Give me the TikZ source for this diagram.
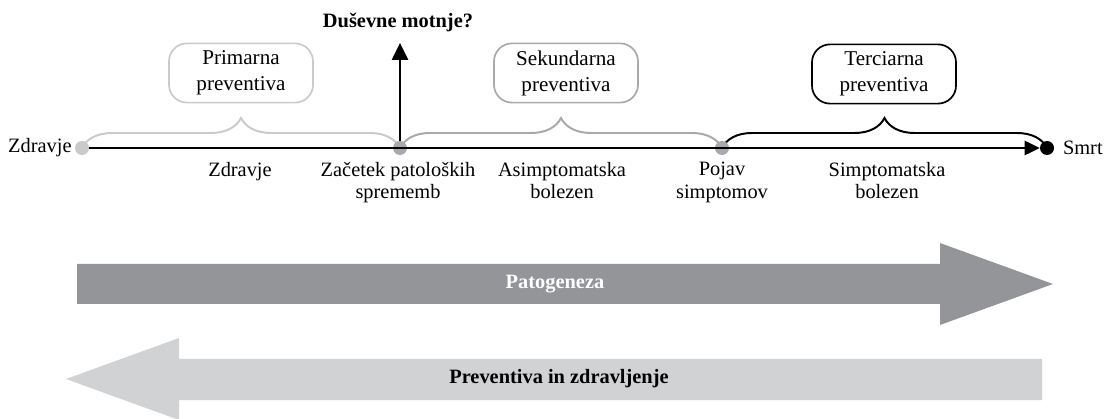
\documentclass[tikz,border=0pt]{standalone}
\usepackage{fontspec}
\setmainfont{Liberation Serif}
\usetikzlibrary{arrows.meta,positioning,calc,decorations.pathreplacing}

\definecolor{lightgr}{HTML}{C9CACC}
\definecolor{midgr}{HTML}{A7A9AC}
\definecolor{patgr}{HTML}{939598}
\definecolor{prevgr}{HTML}{D1D2D4}

\begin{document}
\begin{tikzpicture}[
  x=0.025cm,y=-0.025cm,
  dot/.style={circle, fill=#1, minimum size=0.35cm, inner sep=0pt},
  lbl/.style={font=\fontsize{14.5}{16}\selectfont, align=center, inner sep=0pt, anchor=north},
  stage/.style={
    draw=#1,
    line width=1.2pt,
    rounded corners=0.45cm,
    minimum width=3.6cm, minimum height=1.48cm,
    align=center, inner sep=2pt,
    font=\fontsize{15}{18.5}\selectfont
  },
  curly/.style={
    draw=#1,
    line width=1.4pt,
    decorate,
    decoration={brace,amplitude=0.75cm}
  },
  timeline/.style={
    draw=black,
    line width=1.4pt,
    -{Triangle[length=0.38cm,width=0.36cm]}
  },
  bigtext/.style={font=\bfseries\fontsize{14.5}{14.5}\selectfont},
]
\useasboundingbox (0,0) rectangle (1112,419);

% Points on the timeline
\coordinate (p0) at (82,148);
\coordinate (p1) at (400,148);
\coordinate (p2) at (722,148);
\coordinate (p3) at (1047,148);

% Braces
\draw[curly=lightgr] (p0) -- (p1);
\draw[curly=midgr] (p1) -- (p2);
\draw[curly=black] (p2) -- (p3);

% Dots
\node[dot=lightgr] (z0) at (p0) {};
\node[dot=midgr] (z1) at (p1) {};
\node[dot=midgr] (z2) at (p2) {};
\node[dot=black] (z3) at (p3) {};

% Timeline
\draw[timeline] (z0) -- (z3);

% Question arrow
\coordinate (qtip) at (400,43);
\draw[timeline, -{Triangle[length=0.42cm,width=0.4cm]}] (z1) -- (qtip);
\node[bigtext] (q) at (398,22) {Duševne motnje?};

% End labels
\node[lbl, left=2pt of z0, anchor=east] (start) {Zdravje};
\node[lbl, right=6pt of z3, anchor=west] (end) {Smrt};

% Stage boxes
\node[stage=lightgr] (prim) at (241,73) {Primarna\\preventiva};
\node[stage=midgr] (sek) at (566,73) {Sekundarna\\preventiva};
\node[stage=black] (ter) at (884,74) {Terciarna\\preventiva};

% Labels under the timeline
\node[lbl] (l0) at (240,162) {Zdravje};
\node[lbl] (l1) at (398,162) {Začetek patoloških\\sprememb};
\node[lbl] (l2) at (562,162) {Asimptomatska\\bolezen};
\node[lbl] (l3) at (722,162) {Pojav\\simptomov};
\node[lbl] (l4) at (887,162) {Simptomatska\\bolezen};

% Big arrows
\fill[patgr] (77,264) -- (940,264) -- (940,243) -- (1053,284)
  -- (940,325) -- (940,304) -- (77,304) -- cycle;
\node[bigtext, text=white] (pat) at (555,284) {Patogeneza};

\fill[prevgr] (1042,359) -- (179,359) -- (179,338) -- (66,379)
  -- (179,420) -- (179,400) -- (1042,400) -- cycle;
\node[bigtext] (prev) at (559,379) {Preventiva in zdravljenje};

\end{tikzpicture}
\end{document}
